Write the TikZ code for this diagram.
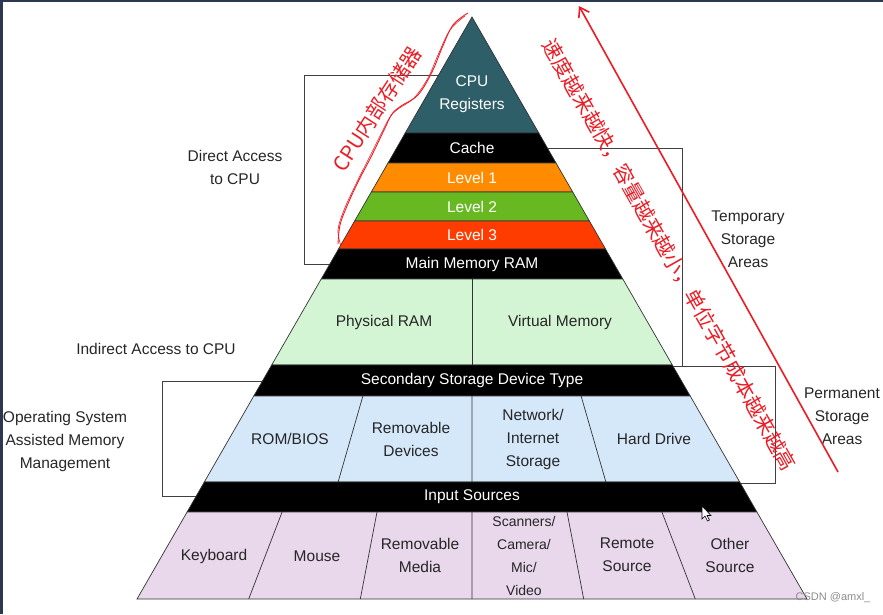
\documentclass[tikz,border=0pt]{standalone}
\usepackage{fontspec}
\setmainfont{Liberation Sans}
\newfontfamily\cjk{Noto Sans CJK SC}
\usetikzlibrary{arrows.meta}
\definecolor{regteal}{RGB}{46,94,104}
\definecolor{lvlone}{RGB}{255,140,0}
\definecolor{lvltwo}{RGB}{104,184,34}
\definecolor{lvlthree}{RGB}{255,60,0}
\definecolor{ramgreen}{RGB}{212,245,212}
\definecolor{storeblue}{RGB}{213,232,250}
\definecolor{inpink}{RGB}{233,215,235}
\definecolor{inkred}{RGB}{236,28,36}
\definecolor{framenavy}{RGB}{44,56,82}
\begin{document}
\begin{tikzpicture}[>=stealth,x=1pt,y=-1pt,
	band/.style={draw=black!80,line width=0.7pt},
	boxline/.style={draw=black!75,line width=0.8pt},
	wtxt/.style={text=white,inner sep=0pt,align=center,font=\fontsize{15.5}{23}\selectfont},
	btxt/.style={text=black!85,inner sep=0pt,align=center,font=\fontsize{15.5}{23}\selectfont},
	note/.style={text=inkred,inner sep=0pt,font=\cjk\fontsize{20.5}{24}\selectfont}]
	\useasboundingbox (0,0) rectangle (883,614);
	\fill[framenavy] (0,0) rectangle (2.5,614);
	\fill[framenavy] (0,0) rectangle (883,1.5);
	%	boxes behind the pyramid
	\draw[boxline] (472,75)--(304,75)--(304,264)--(472,264);
	\draw[boxline] (472,148)--(682,148)--(682,366)--(472,366);
	\draw[boxline] (672,366)--(775,366)--(775,483)--(472,483);
	\draw[boxline] (472,381.7)--(162,381.7)--(162,496.7)--(472,496.7);
	%	pyramid bands
	\filldraw[band,fill=regteal] (472,17)--(538.8,133)--(405.2,133)--cycle;
	\filldraw[band,fill=black] (405.2,133)--(538.8,133)--(556,163)--(388,163)--cycle;
	\filldraw[band,fill=lvlone] (388,163)--(556,163)--(572.7,192)--(371.3,192)--cycle;
	\filldraw[band,fill=lvltwo] (371.3,192)--(572.7,192)--(589.4,221)--(354.6,221)--cycle;
	\filldraw[band,fill=lvlthree] (354.6,221)--(589.4,221)--(605.5,249)--(338.5,249)--cycle;
	\filldraw[band,fill=black] (338.5,249)--(605.5,249)--(622.8,279)--(321.2,279)--cycle;
	\filldraw[band,fill=ramgreen] (321.2,279)--(622.8,279)--(672.3,365)--(271.7,365)--cycle;
	\filldraw[band,fill=black] (271.7,365)--(672.3,365)--(690.2,396)--(253.8,396)--cycle;
	\filldraw[band,fill=storeblue] (253.8,396)--(690.2,396)--(739.7,482)--(204.3,482)--cycle;
	\filldraw[band,fill=black] (204.3,482)--(739.7,482)--(756.9,512)--(187.1,512)--cycle;
	\filldraw[band,fill=inpink] (187.1,512)--(756.9,512)--(807,599)--(137,599)--cycle;
	%	cell dividers
	\draw[band] (472,279)--(472,365);
	\draw[band] (362.9,396)--(338.1,482) (472,396)--(472,482) (581.1,396)--(605.9,482);
	\draw[band] (282.1,512)--(248.7,599) (377,512)--(360.3,599) (472,512)--(472,599)
		(567,512)--(583.7,599) (661.9,512)--(695.3,599);
	%	band labels
	\node[wtxt] (regs) at (472,94) {CPU\\Registers};
	\node[wtxt] (cache) at (472,148) {Cache};
	\node[wtxt] (lone) at (472,177.5) {Level 1};
	\node[wtxt] (ltwo) at (472,206.5) {Level 2};
	\node[wtxt] (lthree) at (472,235) {Level 3};
	\node[wtxt] (mainram) at (472,264) {Main Memory RAM};
	\node[btxt] (physram) at (384,322) {Physical RAM};
	\node[btxt] (virtmem) at (560,322) {Virtual Memory};
	\node[wtxt] (secstore) at (472,380.5) {Secondary Storage Device Type};
	\node[btxt] (rombios) at (290,439) {ROM/BIOS};
	\node[btxt] (remdev) at (411,439) {Removable\\Devices};
	\node[btxt] (netstore) at (533,439) {Network/\\Internet\\Storage};
	\node[btxt] (harddrive) at (654,439) {Hard Drive};
	\node[wtxt] (inputsrc) at (472,497) {Input Sources};
	\node[btxt] (keyboard) at (214,556) {Keyboard};
	\node[btxt] (mouse) at (317,556) {Mouse};
	\node[btxt] (remmedia) at (420,555) {Removable\\Media};
	\node[btxt,font=\fontsize{14}{22.7}\selectfont] (scanners) at (524,556) {Scanners/\\Camera/\\Mic/\\Video};
	\node[btxt] (remote) at (627,555) {Remote\\Source};
	\node[btxt] (other) at (730,555) {Other\\Source};
	%	side labels
	\node[btxt] (direct) at (235,167) {Direct Access\\to CPU};
	\node[btxt] (indirect) at (156,349) {Indirect Access to CPU};
	\node[btxt] (ossys) at (65,441) {Operating System\\Assisted Memory\\Management};
	\node[btxt] (tempstore) at (748,239) {Temporary\\Storage\\Areas};
	\node[btxt] (permstore) at (842,416) {Permanent\\Storage\\Areas};
	%	red notes
	\draw[inkred,line width=0.9pt] plot[smooth,tension=0.6] coordinates {(468,13) (453,25) (442,48) (432,72) (418,95) (401,106) (392,114) (385,128) (372,155) (358,182) (347,206) (340,225) (338,244)};
	\draw[inkred,line width=0.6pt] plot[smooth,tension=0.6] coordinates {(465,16) (450,30) (438,55) (428,78) (414,98) (398,109) (390,117) (382,132) (369,158) (355,186) (344,210) (338,230) (341,246)};
	\node[note,rotate=57] (cpunote) at (377,109) {CPU内部存储器};
	\node[note,rotate=-60.5] (speednote) at (669.5,255) {速度越来越快，容量越来越小，单位字节成本越来越高};
	\coordinate (arrowtail) at (838,472);
	\coordinate (arrowtip) at (579,6);
	\draw[inkred,line width=1.6pt,-{Straight Barb[length=9pt,width=12pt]}] (arrowtail)--(arrowtip);
	%	cursor and watermark
	\draw[fill=white,line width=0.6pt] (702,506)--(702,519)--(705,516)--(707.5,521)--(709.5,520)--(707,515.5)--(711,515.5)--cycle;
	\node[text=black!45,inner sep=0pt,font=\fontsize{11}{13}\selectfont] (mark) at (833,598) {CSDN @amxl\_};
\end{tikzpicture}
\end{document}
